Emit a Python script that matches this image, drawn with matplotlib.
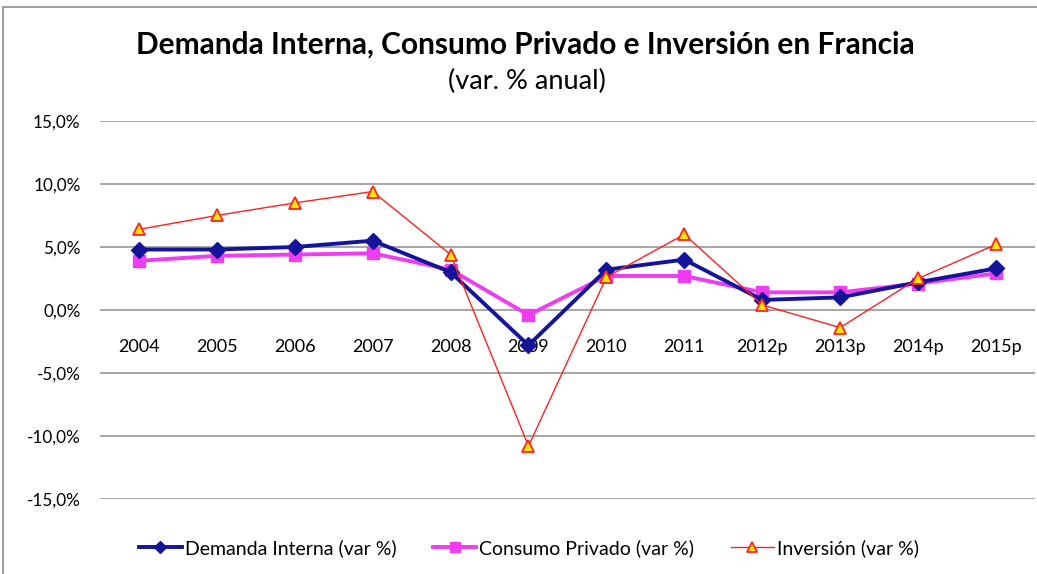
import matplotlib
matplotlib.use("Agg")
import matplotlib.pyplot as plt
from matplotlib.patches import Rectangle
from matplotlib.ticker import FuncFormatter

years = ["2004", "2005", "2006", "2007", "2008", "2009", "2010", "2011",
         "2012p", "2013p", "2014p", "2015p"]
demanda = [4.8, 4.8, 5.0, 5.5, 3.0, -2.8, 3.2, 4.0, 0.8, 1.0, 2.2, 3.3]
consumo = [3.9, 4.3, 4.4, 4.5, 3.2, -0.4, 2.7, 2.7, 1.4, 1.4, 2.1, 2.9]
inversion = [6.4, 7.5, 8.5, 9.4, 4.4, -10.8, 2.6, 6.0, 0.4, -1.4, 2.5, 5.2]

title = "Demanda Interna, Consumo Privado e Inversión en Francia"
subtitle = "(var. % anual)"
labels = ["Demanda Interna (var %)", "Consumo Privado (var %)", "Inversión (var %)"]
yticks = [-15, -10, -5, 0, 5, 10, 15]

FONT = "Lato"
plt.rcParams["font.family"] = [FONT, "DejaVu Sans"]

fig = plt.figure(figsize=(10.37, 5.74), dpi=100)
ax = fig.add_axes([0.0964, 0.1307, 0.9016, 0.6585])

x = list(range(len(years)))
l1, = ax.plot(x, demanda, color="#14149a", lw=2.8, marker="D", ms=8.5,
              mfc="#14149a", mec="#14149a", zorder=4)
l2, = ax.plot(x, consumo, color="#f03cf0", lw=2.8, marker="s", ms=9,
              mfc="#f03cf0", mec="#f03cf0", zorder=3)
l3, = ax.plot(x, inversion, color="#ff2020", lw=1.0, marker="^", ms=9,
              mfc="#ffe600", mec="#ff2020", mew=1.3, zorder=5)

ax.set_ylim(-15, 15)
ax.set_xlim(-0.5, len(years) - 0.5)
ax.set_yticks(yticks)
ax.yaxis.set_major_formatter(FuncFormatter(lambda v, p: f"{v:.1f}%".replace(".", ",")))
ax.tick_params(axis="y", length=0, pad=14, labelsize=12.3)
ax.grid(axis="y", color="#a6a6a6", lw=1.4)
ax.set_axisbelow(True)

ax.set_xticks(x)
ax.set_xticklabels(years)
ax.spines["bottom"].set_position(("data", 0))
for s in ["top", "right", "left", "bottom"]:
    ax.spines[s].set_visible(False)
ax.tick_params(axis="x", length=0, pad=21, labelsize=13)

fig.text(0.507, 1 - 45 / 574, title, ha="center", va="center",
         fontsize=21.5, fontweight="bold")
fig.text(0.508, 1 - 81 / 574, subtitle, ha="center", va="center", fontsize=19.5)

leg = fig.legend([l1, l2, l3], labels, loc="center", bbox_to_anchor=(0.510, 1 - 548 / 574),
                 ncol=3, frameon=False, fontsize=14, handlelength=2.2,
                 handletextpad=0.15, columnspacing=1.9, markerscale=0.75)

fig.patches.append(Rectangle((3 / 1037, -0.05), 1.1, 1 - 7 / 574 + 0.05,
                             transform=fig.transFigure, fill=False,
                             edgecolor="#8c8c8c", lw=1.2))

fig.savefig("out.png", dpi=100)
